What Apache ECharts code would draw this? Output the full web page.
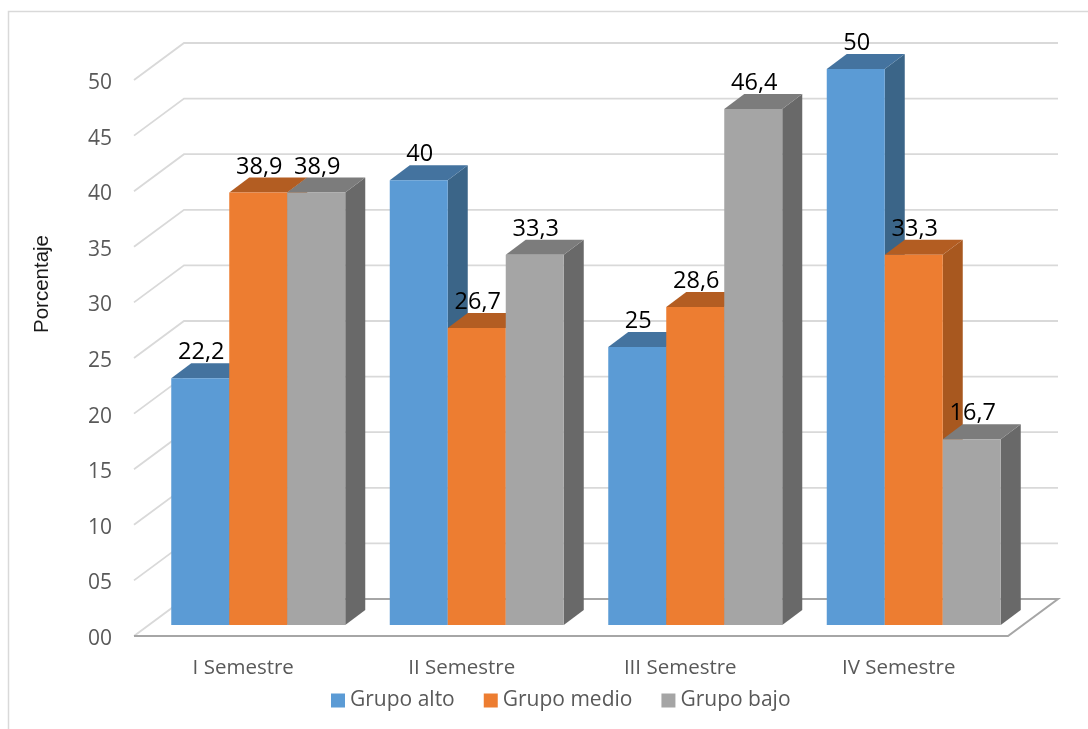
<!DOCTYPE html>
<html><head><meta charset="utf-8">
<style>html,body{margin:0;padding:0;background:#fff}#c{width:1088px;height:729px}</style>
<script src="https://cdn.jsdelivr.net/npm/echarts@6/dist/echarts.min.js"></script>
</head><body><div id="c"></div>
<script>
const categories = ["I Semestre","II Semestre","III Semestre","IV Semestre"];
const grupoAlto = [22.2,40,25,50];
const grupoMedio = [38.9,26.7,28.6,33.3];
const grupoBajo = [38.9,33.3,46.4,16.7];
const tickLabels = ["00","05","10","15","20","25","30","35","40","45","50"];
const tickValues = [0,5,10,15,20,25,30,35,40,45,50];

const FONT = '"Open Sans","Noto Sans",sans-serif';
const WALL_DX = 50, WALL_DY = -37;
const BAR_DX = 20, BAR_DY = -15;
const BASE_DX = 15, BASE_DY = -11;
const BAR_RATIO = 58/218.5;

function barSeries(name, values, idx, front, top, side){
  return {
    type:'custom', name, coordinateSystem:'cartesian2d', z:idx+3,
    itemStyle:{color:front},
    encode:{x:0,y:1},
    data: values.map((v,i)=>[i,v]),
    renderItem(params, api){
      const c = api.value(0), v = api.value(1);
      const t = api.coord([c,v]), b = api.coord([c,0]);
      const w = api.size([1,0])[0]*BAR_RATIO;
      const x0 = t[0]+BASE_DX+(idx-1.5)*w, x1 = x0+w;
      const yT = t[1]+BASE_DY, yB = b[1]+BASE_DY;
      return {type:'group', children:[
        {type:'polygon', shape:{points:[[x1,yT],[x1+BAR_DX,yT+BAR_DY],[x1+BAR_DX,yB+BAR_DY],[x1,yB]]}, style:{fill:side}},
        {type:'polygon', shape:{points:[[x0,yT],[x0+BAR_DX,yT+BAR_DY],[x1+BAR_DX,yT+BAR_DY],[x1,yT]]}, style:{fill:top}},
        {type:'rect', shape:{x:x0,y:yT,width:w,height:yB-yT}, style:{fill:front}},
        {type:'text', z2:100, x:(x0+x1)/2+1, y:yT-25.5, style:{
          text:String(v).replace('.',','), fill:'#000', font:'23.5px '+FONT, align:'center', verticalAlign:'middle'}}
      ]};
    }
  };
}

const option = {
  animation:false,
  backgroundColor:'#fff',
  color:['#5b9bd5','#ed7d31','#a5a5a5'],
  textStyle:{fontFamily:FONT},
  grid:{left:134, right:80, top:80, bottom:93, containLabel:false},
  legend:{
    data:["Grupo alto","Grupo medio","Grupo bajo"],
    left:331, top:690, padding:0, icon:'rect', itemWidth:14, itemHeight:14, itemGap:29,
    textStyle:{fontFamily:FONT,fontSize:21,color:'#595959'}
  },
  xAxis:{type:'category', data:categories,
    axisLine:{show:false}, axisTick:{show:false}, splitLine:{show:false},
    axisLabel:{color:'#595959', fontSize:20.5, margin:22, fontFamily:FONT}},
  yAxis:{type:'value', min:0, max:50, interval:5,
    axisLine:{show:false}, axisTick:{show:false}, splitLine:{show:false},
    axisLabel:{margin:22,
      formatter:v=>'{t|'+tickLabels[tickValues.indexOf(v)]+'}',
      rich:{t:{color:'#595959', fontSize:21, fontFamily:FONT, padding:[6,0,0,0]}}}},
  graphic:[
    {type:'polyline', silent:true, shape:{points:[[8.5,729],[8.5,11.5],[1088,11.5]]}, style:{stroke:'#d9d9d9',lineWidth:1.5,fill:null}},
    {type:'text', silent:true, x:42, y:284, rotation:Math.PI/2, style:{text:'Porcentaje', fill:'#1a1a1a', font:'20.5px "Liberation Sans",Arial,sans-serif', align:'center', verticalAlign:'middle'}}
  ],
  series:[
    {type:'custom', name:'walls', coordinateSystem:'cartesian2d', silent:true, z:1,
     encode:{y:1}, data:tickValues.map(v=>[0,v]),
     renderItem(params, api){
       const v = api.value(1), y = api.coord([0,v])[1];
       const cs = params.coordSys, xL = cs.x, xR = cs.x+cs.width;
       const kids = [{type:'polyline', shape:{points:[[xL,y],[xL+WALL_DX,y+WALL_DY],[xR+WALL_DX,y+WALL_DY]]},
                     style:{stroke:'#d9d9d9',lineWidth:1.8,fill:null}}];
       if(v===0){
         kids.push({type:'polyline', shape:{points:[[xL+WALL_DX,y+WALL_DY],[xR+WALL_DX,y+WALL_DY],[xR,y],[xL,y]]},
                     style:{stroke:'#a6a6a6',lineWidth:2,fill:null}});
       }
       return {type:'group',children:kids};
     }},
    barSeries("Grupo alto", grupoAlto, 0, '#5b9bd5','#44739f','#3b6588'),
    barSeries("Grupo medio", grupoMedio, 1, '#ed7d31','#b35d22','#a8581f'),
    barSeries("Grupo bajo", grupoBajo, 2, '#a5a5a5','#7c7c7c','#696969')
  ]
};
echarts.init(document.getElementById('c'),null,{renderer:'canvas'}).setOption(option);
</script></body></html>
